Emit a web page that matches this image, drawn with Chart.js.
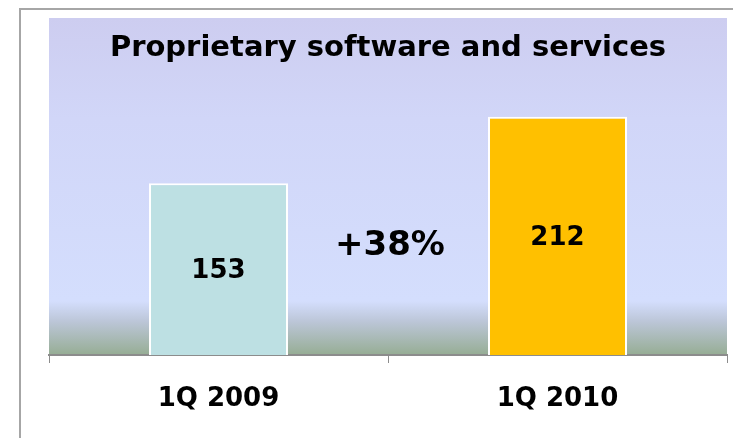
<!DOCTYPE html>
<html>
<head>
<meta charset="utf-8">
<script src="https://cdn.jsdelivr.net/npm/chart.js@4/dist/chart.umd.min.js"></script>
<style>
  html, body { margin: 0; padding: 0; background: #fff; }
  #wrap { width: 733px; height: 438px; }
</style>
</head>
<body>
<div id="wrap"><canvas id="chart" width="733" height="438"></canvas></div>
<script>
const categories = ['1Q 2009', '1Q 2010'];
const values = [153, 212];
const barColors = ['#bde0e3', '#ffc000'];
const chartTitle = 'Proprietary software and services';
const growthLabel = '+38%';

const FONT = '"DejaVu Sans", Verdana, sans-serif';

// frame, gradient background, title, value labels and growth note
const decor = {
  id: 'decor',
  beforeDraw(chart) {
    const { ctx, chartArea: a } = chart;
    ctx.save();
    ctx.fillStyle = '#a6a6a6';
    ctx.fillRect(19, 8, 733 - 19, 2);
    ctx.fillRect(19, 8, 2, 438 - 8);

    const g = ctx.createLinearGradient(0, a.top, 0, a.bottom);
    g.addColorStop(0, '#cdcdf0');
    g.addColorStop(0.3, '#d1d6f8');
    g.addColorStop(0.84, '#d4defd');
    g.addColorStop(0.9, '#bcc6d8');
    g.addColorStop(1, '#96ad94');
    ctx.fillStyle = g;
    ctx.fillRect(a.left, a.top, a.right - a.left, a.bottom - a.top);

    ctx.fillStyle = '#000';
    ctx.font = 'bold 29px ' + FONT;
    ctx.textAlign = 'center';
    ctx.textBaseline = 'middle';
    ctx.fillText(chartTitle, (a.left + a.right) / 2, 48);
    ctx.restore();
  },
  afterDatasetsDraw(chart) {
    const { ctx } = chart;
    const meta = chart.getDatasetMeta(0);
    ctx.save();
    ctx.fillStyle = '#000';
    ctx.textAlign = 'center';
    ctx.textBaseline = 'middle';
    ctx.font = 'bold 26px ' + FONT;
    meta.data.forEach((bar, i) => {
      ctx.fillText(String(values[i]), bar.x, (bar.y + bar.base) / 2 + 2);
    });
    const xs = chart.scales.x, ys = chart.scales.y;
    ctx.font = 'bold 34px ' + FONT;
    ctx.fillText(growthLabel, xs.getPixelForValue(0.5) + 2, ys.getPixelForValue(97));
    ctx.restore();
  }
};

new Chart(document.getElementById('chart'), {
  type: 'bar',
  data: {
    labels: categories,
    datasets: [{
      data: values,
      backgroundColor: barColors,
      borderColor: '#ffffff',
      borderWidth: 2,
      borderSkipped: 'bottom',
      categoryPercentage: 0.41,
      barPercentage: 1
    }]
  },
  options: {
    responsive: false,
    animation: false,
    layout: { padding: { left: 49, right: 6, top: 18, bottom: 0 } },
    plugins: { legend: { display: false }, tooltip: { enabled: false } },
    scales: {
      y: { display: false, min: 0, max: 300 },
      x: {
        afterFit(scale) { scale.height = 83; },
        border: { display: true, color: '#8c8c8c', width: 2 },
        grid: { display: true, drawOnChartArea: false, drawTicks: true, tickLength: 8, color: '#8c8c8c', lineWidth: 1 },
        ticks: { color: '#000', font: { family: FONT, size: 26, weight: 'bold' }, padding: 21 }
      }
    }
  },
  plugins: [decor]
});
</script>
</body>
</html>
